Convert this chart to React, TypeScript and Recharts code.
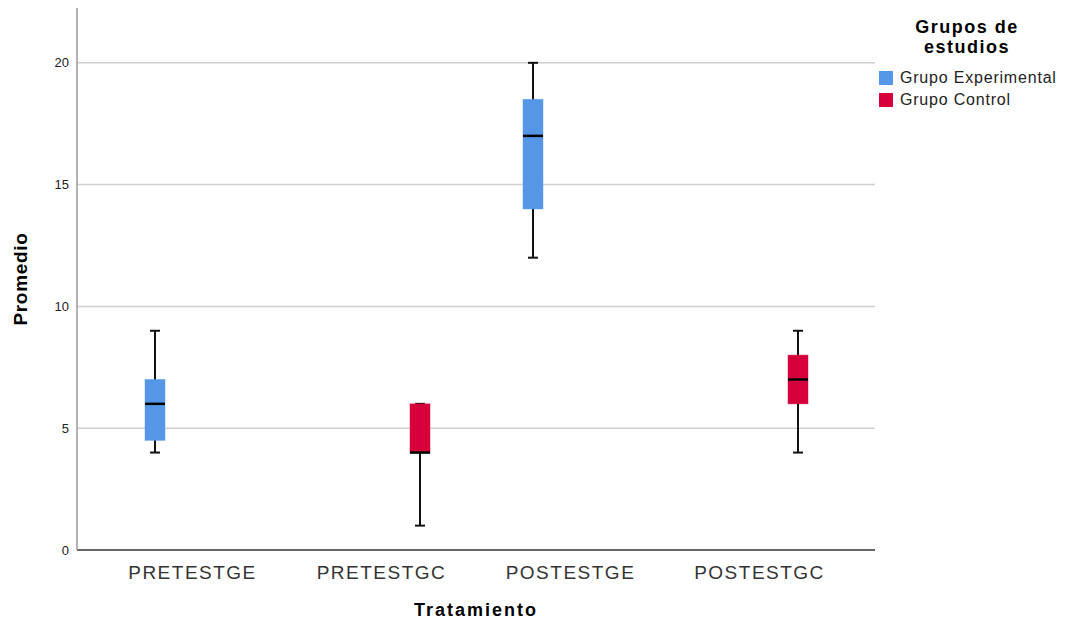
import React from 'react';
import { ComposedChart, Bar, XAxis, YAxis, CartesianGrid } from 'recharts';

const categories = ['PRETESTGE', 'PRETESTGC', 'POSTESTGE', 'POSTESTGC'];

// Grupo Experimental
const geMin = [4, null, 12, null];
const geQ1 = [4.5, null, 14, null];
const geMedian = [6, null, 17, null];
const geQ3 = [7, null, 18.5, null];
const geMax = [9, null, 20, null];

// Grupo Control
const gcMin = [null, 1, null, 4];
const gcQ1 = [null, 4, null, 6];
const gcMedian = [null, 4, null, 7];
const gcQ3 = [null, 6, null, 8];
const gcMax = [null, 6, null, 9];

const yTicks = [0, 5, 10, 15, 20];

const BLUE = '#5597e6';
const RED = '#d5003b';
const FONT = '"Liberation Sans", Arial, sans-serif';

type Stats = { min: number; q1: number; median: number; q3: number; max: number };

const pick = (mins, q1s, meds, q3s, maxs, i): Stats | null =>
  mins[i] == null
    ? null
    : { min: mins[i], q1: q1s[i], median: meds[i], q3: q3s[i], max: maxs[i] };

const data = categories.map((name, i) => ({
  name,
  ge: pick(geMin, geQ1, geMedian, geQ3, geMax, i),
  gc: pick(gcMin, gcQ1, gcMedian, gcQ3, gcMax, i),
}));

const BoxShape = (props: any) => {
  const { x, y, width, height, stats, color } = props;
  if (!stats || !isFinite(y) || !isFinite(height)) return <g />;
  // the bar rect spans [min, max]; map other stats along it
  const span = stats.max - stats.min;
  const py = (v: number) => y + (height * (stats.max - v)) / span;
  const cx = x + width / 2;
  const cap = 5;
  return (
    <g>
      <line x1={cx} x2={cx} y1={py(stats.max)} y2={py(stats.min)} stroke="#111" strokeWidth={2} />
      <line x1={cx - cap} x2={cx + cap} y1={py(stats.max)} y2={py(stats.max)} stroke="#111" strokeWidth={2} />
      <line x1={cx - cap} x2={cx + cap} y1={py(stats.min)} y2={py(stats.min)} stroke="#111" strokeWidth={2} />
      <rect
        x={x}
        y={py(stats.q3)}
        width={width}
        height={py(stats.q1) - py(stats.q3)}
        fill={color}
        stroke={color}
        strokeOpacity={0.45}
        strokeWidth={1}
      />
      <line x1={x} x2={x + width} y1={py(stats.median)} y2={py(stats.median)} stroke="#000" strokeWidth={2.5} />
    </g>
  );
};

const legendItems = [
  { label: 'Grupo Experimental', color: BLUE },
  { label: 'Grupo Control', color: RED },
];

const LegendBox = () => (
  <div style={{ position: 'absolute', left: 879, top: 17, fontFamily: FONT, color: '#000' }}>
    <div
      style={{
        fontWeight: 'bold',
        fontSize: 18,
        letterSpacing: 1.5,
        lineHeight: '20px',
        textAlign: 'center',
        width: 176,
        marginBottom: 10,
      }}
    >
      Grupos de
      <br />
      estudios
    </div>
    {legendItems.map((it) => (
      <div
        key={it.label}
        style={{ display: 'flex', alignItems: 'center', height: 22, fontSize: 16, letterSpacing: 0.8, color: '#222' }}
      >
        <span style={{ width: 14, height: 14, background: it.color, marginRight: 7, display: 'inline-block' }} />
        <span>{it.label}</span>
      </div>
    ))}
  </div>
);

export default function App() {
  return (
    <div style={{ position: 'absolute', left: 0, top: 0, width: 1070, height: 623, background: '#fff' }}>
      <ComposedChart
        width={1070}
        height={623}
        data={data}
        barSize={20}
        barGap={56}
        margin={{ top: 8, right: 195, bottom: 0, left: 0 }}
      >
        <CartesianGrid vertical={false} stroke="#cfcfcf" strokeWidth={1.5} horizontalValues={[5, 10, 15, 20]} />
        <XAxis
          dataKey="name"
          padding={{ left: 21, right: 21 }}
          height={73}
          tickLine={false}
          tickMargin={10}
          axisLine={{ stroke: '#333', strokeWidth: 1.5 }}
          tick={{ fill: '#333', fontSize: 19, fontFamily: FONT, letterSpacing: 1.5 }}
          label={{
            value: 'Tratamiento',
            position: 'insideBottom',
            offset: 7,
            style: { fill: '#000', fontSize: 18, fontWeight: 'bold', fontFamily: FONT, letterSpacing: 2 },
          }}
        />
        <YAxis
          width={77}
          domain={[0, 22.25]}
          ticks={yTicks}
          tickLine={false}
          axisLine={{ stroke: '#999', strokeWidth: 1.5 }}
          tick={{ fill: '#222', fontSize: 13, fontFamily: FONT }}
          label={{
            value: 'Promedio',
            angle: -90,
            position: 'insideLeft',
            offset: 20,
            style: {
              fill: '#000',
              fontSize: 19,
              fontWeight: 'bold',
              fontFamily: FONT,
              letterSpacing: 0.7,
              textAnchor: 'middle',
            },
          }}
        />
        <Bar
          dataKey={(d: any) => (d.ge ? [d.ge.min, d.ge.max] : null)}
          name="Grupo Experimental"
          fill={BLUE}
          isAnimationActive={false}
          shape={(p: any) => <BoxShape {...p} stats={p.payload.ge} color={BLUE} />}
        />
        <Bar
          dataKey={(d: any) => (d.gc ? [d.gc.min, d.gc.max] : null)}
          name="Grupo Control"
          fill={RED}
          isAnimationActive={false}
          shape={(p: any) => <BoxShape {...p} stats={p.payload.gc} color={RED} />}
        />
      </ComposedChart>
      <LegendBox />
    </div>
  );
}
